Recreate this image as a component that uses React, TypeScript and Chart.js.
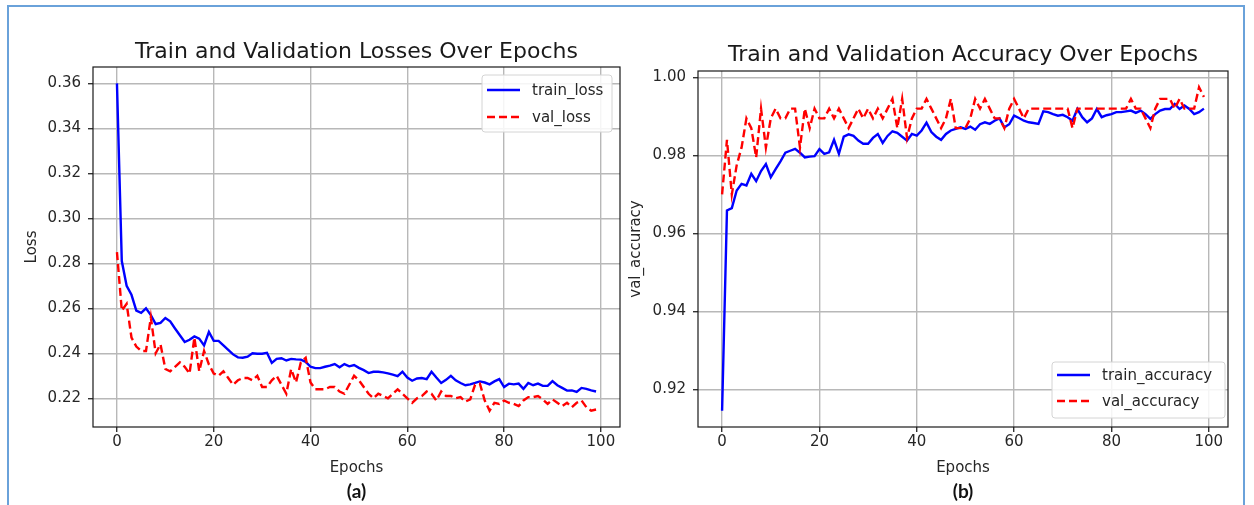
import React, { useEffect, useRef } from 'react';
import { Chart, registerables } from 'chart.js';
Chart.register(...registerables);

const epochs: number[] = Array.from({ length: 100 }, (_, i) => i);

const trainLoss = [
  0.360, 0.281, 0.270, 0.266, 0.259, 0.258, 0.260, 0.257, 0.253, 0.2535,
  0.2557, 0.2542, 0.251, 0.248, 0.245, 0.246, 0.2475, 0.2465, 0.2435, 0.2495,
  0.2455, 0.2455, 0.2435, 0.2415, 0.2395, 0.2382, 0.238, 0.2385, 0.240, 0.2398,
  0.2398, 0.2402, 0.2357, 0.2375, 0.2378, 0.2368, 0.2375, 0.2373, 0.2372, 0.2362,
  0.234, 0.2334, 0.2334, 0.234, 0.2345, 0.2352, 0.2338, 0.2352, 0.2342, 0.2348,
  0.2335, 0.2325, 0.2312, 0.2318, 0.2318, 0.2315, 0.2311, 0.2305, 0.2298, 0.2318,
  0.2292, 0.2278, 0.2288, 0.229, 0.2285, 0.2318, 0.2292, 0.2268, 0.2282, 0.230,
  0.228, 0.2268, 0.2258, 0.2262, 0.2268, 0.2275, 0.227, 0.2262, 0.2275, 0.2285,
  0.225, 0.2265, 0.2262, 0.2265, 0.2242, 0.2268, 0.2258, 0.2265, 0.2255, 0.2255,
  0.2276, 0.2258, 0.2246, 0.2234, 0.2235, 0.2228, 0.2246, 0.2242, 0.2235, 0.223,
];

const valLoss = [
  0.285, 0.259, 0.262, 0.247, 0.243, 0.241, 0.241, 0.256, 0.240, 0.244,
  0.233, 0.232, 0.234, 0.236, 0.234, 0.231, 0.247, 0.232, 0.241, 0.235,
  0.231, 0.230, 0.232, 0.229, 0.226, 0.228, 0.229, 0.229, 0.228, 0.230,
  0.225, 0.225, 0.228, 0.230, 0.226, 0.222, 0.233, 0.227, 0.236, 0.238,
  0.227, 0.224, 0.224, 0.224, 0.225, 0.225, 0.223, 0.222, 0.226, 0.230,
  0.228, 0.225, 0.222, 0.220, 0.222, 0.221, 0.220, 0.222, 0.224, 0.222,
  0.220, 0.218, 0.220, 0.221, 0.223, 0.222, 0.219, 0.223, 0.221, 0.221,
  0.220, 0.2205, 0.2185, 0.2195, 0.226, 0.2265, 0.219, 0.2145, 0.218, 0.2175,
  0.219, 0.218, 0.2175, 0.2165, 0.219, 0.2205, 0.2205, 0.221, 0.2195, 0.2175,
  0.2195, 0.218, 0.2165, 0.218, 0.216, 0.218, 0.219, 0.216, 0.2145, 0.215,
];

const trainAcc = [
  0.9145, 0.9659, 0.9665, 0.971, 0.9727, 0.9723, 0.9753, 0.9734, 0.976, 0.9778,
  0.9744, 0.9765, 0.9785, 0.9807, 0.9812, 0.9817, 0.9807, 0.9795, 0.9797, 0.9798,
  0.9816, 0.9804, 0.9808, 0.984, 0.9804, 0.9848, 0.9854, 0.985, 0.9838, 0.983,
  0.983, 0.9845, 0.9855, 0.9832, 0.985, 0.9862, 0.9858, 0.9848, 0.9838, 0.9855,
  0.9851, 0.9864, 0.9884, 0.986, 0.9848, 0.984, 0.9855, 0.9864, 0.9868, 0.9872,
  0.9868, 0.9874, 0.9866, 0.988, 0.9885, 0.9881, 0.9889, 0.9895, 0.9872, 0.988,
  0.9902, 0.9896, 0.9889, 0.9885, 0.9883, 0.9881, 0.9913, 0.9911, 0.9906, 0.9902,
  0.9904, 0.9898, 0.9889, 0.9919, 0.9898, 0.9885, 0.9895, 0.9919, 0.9898, 0.9903,
  0.9906, 0.9911, 0.9911, 0.9913, 0.9915, 0.9909, 0.9915, 0.9906, 0.9894, 0.9906,
  0.9915, 0.9919, 0.9919, 0.9932, 0.9919, 0.9928, 0.9919, 0.9906, 0.9911, 0.992,
];

const valAcc = [
  0.970, 0.984, 0.970, 0.9775, 0.982, 0.9895, 0.987, 0.9795, 0.992, 0.982,
  0.9895, 0.992, 0.9895, 0.9895, 0.992, 0.992, 0.982, 0.992, 0.987, 0.992,
  0.9895, 0.9895, 0.992, 0.9895, 0.992, 0.9895, 0.987, 0.9895, 0.992, 0.9895,
  0.992, 0.9895, 0.992, 0.9895, 0.992, 0.9945, 0.987, 0.9945, 0.9845, 0.9895,
  0.992, 0.992, 0.9945, 0.992, 0.9895, 0.987, 0.9895, 0.9945, 0.987, 0.987,
  0.987, 0.9895, 0.9945, 0.992, 0.9945, 0.992, 0.9895, 0.9895, 0.987, 0.992,
  0.9945, 0.992, 0.9895, 0.992, 0.992, 0.992, 0.992, 0.992, 0.992, 0.992,
  0.992, 0.992, 0.987, 0.992, 0.992, 0.992, 0.992, 0.992, 0.992, 0.992,
  0.992, 0.992, 0.992, 0.992, 0.9945, 0.992, 0.992, 0.9895, 0.987, 0.992,
  0.9945, 0.9945, 0.9945, 0.992, 0.9945, 0.992, 0.992, 0.992, 0.9975, 0.995,
];

const epochTicks = [0, 20, 40, 60, 80, 100];
const lossTicks = [0.22, 0.24, 0.26, 0.28, 0.30, 0.32, 0.34, 0.36];
const accTicks = [0.92, 0.94, 0.96, 0.98, 1.00];

const FONT = "'DejaVu Sans', sans-serif";
const BLUE = '#0000ff';
const RED = '#ff0000';
const DASH = [8, 4];

function padRange(arrs: number[][]) {
  const all = arrs.flat();
  const mn = Math.min(...all);
  const mx = Math.max(...all);
  const m = (mx - mn) * 0.05;
  return [mn - m, mx + m];
}

type Decor = {
  title: string;
  titleGap: number;
  panel: string;
  legend: { w: number; h: number; dx: number; dy: number; corner: 'tr' | 'br'; rows: number[] };
  items: { label: string; color: string; dash: number[] }[];
};

function decorPlugin(d: Decor) {
  return {
    id: 'decor',
    afterDatasetsDraw(chart: any) {
      const { ctx, chartArea: a } = chart;
      ctx.save();
      ctx.strokeStyle = '#1a1a1a';
      ctx.lineWidth = 1.2;
      ctx.strokeRect(a.left, a.top, a.right - a.left, a.bottom - a.top);

      const lg = d.legend;
      const bx = a.right - lg.dx - lg.w;
      const by = lg.corner === 'tr' ? a.top + lg.dy : a.bottom - lg.dy - lg.h;
      ctx.beginPath();
      if (ctx.roundRect) ctx.roundRect(bx, by, lg.w, lg.h, 3);
      else ctx.rect(bx, by, lg.w, lg.h);
      ctx.fillStyle = 'rgba(255,255,255,0.85)';
      ctx.fill();
      ctx.strokeStyle = '#d4d4d4';
      ctx.lineWidth = 1;
      ctx.stroke();
      d.items.forEach((it, i) => {
        const cy = by + lg.rows[i];
        ctx.beginPath();
        ctx.setLineDash(it.dash);
        ctx.strokeStyle = it.color;
        ctx.lineWidth = 2.4;
        ctx.moveTo(bx + 5, cy);
        ctx.lineTo(bx + 38, cy);
        ctx.stroke();
        ctx.setLineDash([]);
        ctx.fillStyle = '#262626';
        ctx.font = `15px ${FONT}`;
        ctx.textAlign = 'left';
        ctx.textBaseline = 'middle';
        ctx.fillText(it.label, bx + 50, cy + 1);
      });
      ctx.restore();
    },
    afterDraw(chart: any) {
      const { ctx, chartArea: a } = chart;
      const cx = (a.left + a.right) / 2;
      ctx.save();
      ctx.fillStyle = '#1a1a1a';
      ctx.textAlign = 'center';
      ctx.textBaseline = 'alphabetic';
      ctx.font = `22px ${FONT}`;
      ctx.fillText(d.title, cx, a.top - d.titleGap);
      ctx.font = `bold 19px Lato, 'Open Sans', sans-serif`;
      ctx.textBaseline = 'middle';
      ctx.fillStyle = '#111';
      ctx.fillText(d.panel, cx, 492);
      ctx.restore();
    },
  };
}

function makeConfig(opts: {
  series: { label: string; data: number[]; color: string; dash: number[]; order: number }[];
  yTicks: number[];
  yTitle: string;
  yTitlePad: number;
  yWidth: number;
  padRight: number;
  padTop: number;
  decor: Decor;
}) {
  const [ymin, ymax] = padRange(opts.series.map((s) => s.data));
  const [xmin, xmax] = [-(99 * 0.05), 99 + 99 * 0.05];
  const tickFont = { family: FONT, size: 15 };
  return {
    type: 'line' as const,
    data: {
      datasets: opts.series.map((s) => ({
        label: s.label,
        data: s.data.map((v, i) => ({ x: epochs[i], y: v })),
        borderColor: s.color,
        backgroundColor: s.color,
        borderWidth: 2.4,
        borderDash: s.dash,
        pointRadius: 0,
        tension: 0,
        fill: false,
        order: s.order,
      })),
    },
    options: {
      animation: false as const,
      responsive: false,
      maintainAspectRatio: false,
      layout: { padding: { top: opts.padTop, right: opts.padRight, bottom: 0, left: 0 } },
      plugins: {
        legend: { display: false },
        title: { display: false },
        tooltip: { enabled: false },
      },
      scales: {
        x: {
          type: 'linear' as const,
          bounds: 'data' as const,
          min: xmin,
          max: xmax,
          afterFit: (s: any) => {
            s.height = 78;
          },
          afterBuildTicks: (s: any) => {
            s.ticks = epochTicks.map((v) => ({ value: v }));
          },
          grid: { color: '#b8b8b8', lineWidth: 1.4, tickColor: '#333', tickLength: 5 },
          border: { display: false },
          ticks: {
            font: tickFont,
            color: '#262626',
            padding: 1,
            maxRotation: 0,
            autoSkip: false,
            callback: (v: any) => String(v),
          },
          title: {
            display: true,
            text: 'Epochs',
            font: { family: FONT, size: 15 },
            color: '#262626',
            padding: { top: 0, bottom: 28 },
          },
        },
        y: {
          type: 'linear' as const,
          bounds: 'data' as const,
          min: ymin,
          max: ymax,
          afterFit: (s: any) => {
            s.width = opts.yWidth;
          },
          afterBuildTicks: (s: any) => {
            s.ticks = opts.yTicks.map((v) => ({ value: v }));
          },
          grid: { color: '#b8b8b8', lineWidth: 1.4, tickColor: '#333', tickLength: 5 },
          border: { display: false },
          ticks: {
            font: tickFont,
            color: '#262626',
            padding: 7,
            autoSkip: false,
            callback: (v: any) => Number(v).toFixed(2),
          },
          title: {
            display: true,
            text: opts.yTitle,
            font: { family: FONT, size: 15 },
            color: '#262626',
            padding: { top: opts.yTitlePad, bottom: 0 },
          },
        },
      },
    },
    plugins: [decorPlugin(opts.decor)],
  };
}

function ChartCanvas(props: { width: number; height: number; left: number; build: () => any }) {
  const ref = useRef<HTMLCanvasElement | null>(null);
  useEffect(() => {
    if (!ref.current) return;
    const chart = new Chart(ref.current, props.build());
    return () => chart.destroy();
  }, []);
  return (
    <canvas
      ref={ref}
      width={props.width}
      height={props.height}
      style={{ position: 'absolute', left: props.left, top: 0, width: props.width, height: props.height }}
    />
  );
}

export default function App() {
  const lossCfg = () =>
    makeConfig({
      series: [
        { label: 'train_loss', data: trainLoss, color: BLUE, dash: [], order: 1 },
        { label: 'val_loss', data: valLoss, color: RED, dash: DASH, order: 0 },
      ],
      yTicks: lossTicks,
      yTitle: 'Loss',
      yTitlePad: 23,
      yWidth: 93,
      padRight: 3,
      padTop: 67,
      decor: {
        title: 'Train and Validation Losses Over Epochs',
        titleGap: 9,
        panel: '(a)',
        legend: { w: 130, h: 57, dx: 8, dy: 8, corner: 'tr', rows: [15, 42] },
        items: [
          { label: 'train_loss', color: BLUE, dash: [] },
          { label: 'val_loss', color: RED, dash: DASH },
        ],
      },
    });
  const accCfg = () =>
    makeConfig({
      series: [
        { label: 'train_accuracy', data: trainAcc, color: BLUE, dash: [], order: 1 },
        { label: 'val_accuracy', data: valAcc, color: RED, dash: DASH, order: 0 },
      ],
      yTicks: accTicks,
      yTitle: 'val_accuracy',
      yTitlePad: 4,
      yWidth: 75,
      padRight: 26,
      padTop: 71,
      decor: {
        title: 'Train and Validation Accuracy Over Epochs',
        titleGap: 10,
        panel: '(b)',
        legend: { w: 173, h: 56, dx: 3, dy: 9, corner: 'br', rows: [13, 39] },
        items: [
          { label: 'train_accuracy', color: BLUE, dash: [] },
          { label: 'val_accuracy', color: RED, dash: DASH },
        ],
      },
    });
  return (
    <div style={{ position: 'absolute', left: 0, top: 0, width: 1254, height: 505, background: '#fff', overflow: 'hidden' }}>
      <div
        style={{
          position: 'absolute',
          left: 7,
          top: 5,
          width: 1238,
          height: 540,
          border: '2px solid #6aa2da',
          boxSizing: 'border-box',
        }}
      />
      <ChartCanvas width={623} height={505} left={0} build={lossCfg} />
      <ChartCanvas width={631} height={505} left={623} build={accCfg} />
    </div>
  );
}
